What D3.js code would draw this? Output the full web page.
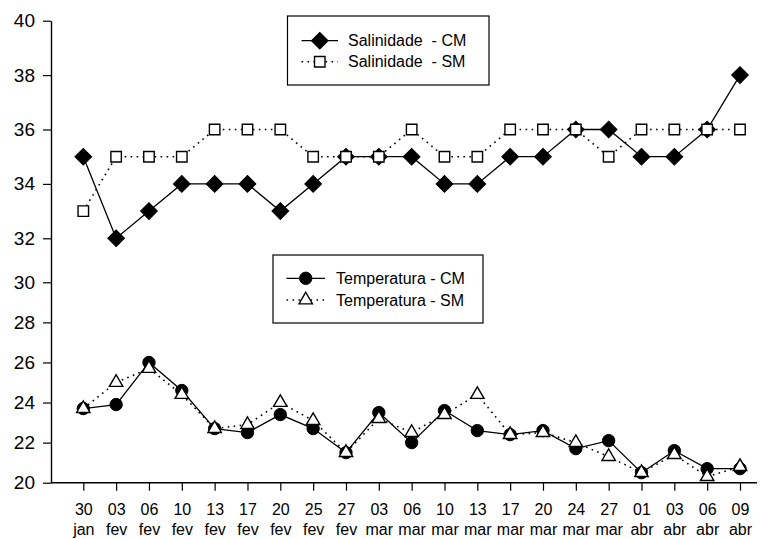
<!DOCTYPE html>
<html>
<head>
<meta charset="utf-8">
<script src="https://cdn.jsdelivr.net/npm/d3@7"></script>
<style>
  body { margin: 0; background: #fff; }
  svg { font-family: Arial, "Liberation Sans", sans-serif; }
</style>
</head>
<body>
<div id="chart"></div>
<script>
const dates = ['30 jan', '03 fev', '06 fev', '10 fev', '13 fev', '17 fev', '20 fev', '25 fev', '27 fev',
  '03 mar', '06 mar', '10 mar', '13 mar', '17 mar', '20 mar', '24 mar', '27 mar',
  '01 abr', '03 abr', '06 abr', '09 abr'];

const salCM = [35, 32, 33, 34, 34, 34, 33, 34, 35, 35, 35, 34, 34, 35, 35, 36, 36, 35, 35, 36, 38];
const salSM = [33, 35, 35, 35, 36, 36, 36, 35, 35, 35, 36, 35, 35, 36, 36, 36, 35, 36, 36, 36, 36];
const tempCM = [23.7, 23.9, 26.0, 24.6, 22.7, 22.5, 23.4, 22.7, 21.5, 23.5, 22.0, 23.6, 22.6, 22.4, 22.6, 21.7, 22.1, 20.5, 21.6, 20.7, 20.7];
const tempSM = [23.7, 25.0, 25.7, 24.4, 22.7, 22.9, 24.0, 23.1, 21.5, 23.2, 22.5, 23.4, 24.4, 22.4, 22.5, 22.0, 21.3, 20.5, 21.4, 20.3, 20.8];

const yTicks = [20, 22, 24, 26, 28, 30, 32, 34, 36, 38, 40];

const width = 760, height = 539;

const svg = d3.select('#chart')
  .append('svg')
  .attr('width', width)
  .attr('height', height);

const x = d3.scalePoint()
  .domain(dates)
  .range([83.3, 740]);

// the original axis is not uniform: wider spacing above 32
const y = d3.scaleLinear()
  .domain([20, 30, 32, 40])
  .range([482.7, 282.3, 238.3, 20.7]);

// y axis
const yAxis = svg.append('g')
  .attr('transform', 'translate(51,0)')
  .call(d3.axisLeft(y).tickValues(yTicks).tickSize(8).tickSizeOuter(0).tickPadding(8));
yAxis.select('.domain').attr('stroke', '#000').attr('stroke-width', 1.4);
yAxis.selectAll('.tick line').attr('stroke', '#000').attr('stroke-width', 1.2);
yAxis.selectAll('.tick text')
  .attr('fill', '#000')
  .style('font-size', '19px')
  .style('font-family', 'Arial, "Liberation Sans", sans-serif');

// x axis
const xAxis = svg.append('g')
  .attr('transform', `translate(0,${y(20)})`)
  .call(d3.axisBottom(x).tickSize(8).tickSizeOuter(0).tickFormat(''));
xAxis.select('.domain').remove();
xAxis.selectAll('.tick line').attr('stroke', '#000').attr('stroke-width', 1.2);
xAxis.append('line')
  .attr('x1', 51).attr('x2', 757)
  .attr('stroke', '#000').attr('stroke-width', 1.4);

const xLabels = xAxis.selectAll('.tick').append('text')
  .attr('fill', '#000')
  .attr('text-anchor', 'middle')
  .style('font-size', '16px')
  .style('font-family', 'Arial, "Liberation Sans", sans-serif');
xLabels.append('tspan').attr('x', 0).attr('y', 32).text(d => d.split(' ')[0]);
xLabels.append('tspan').attr('x', 0).attr('y', 52).text(d => d.split(' ')[1]);

// lines
const line = d3.line()
  .x((d, i) => x(dates[i]))
  .y(d => y(d));

function drawLine(values, dotted) {
  svg.append('path')
    .datum(values)
    .attr('fill', 'none')
    .attr('stroke', '#000')
    .attr('stroke-width', dotted ? 1.6 : 1.3)
    .attr('stroke-dasharray', dotted ? '1.6,4.4' : null)
    .attr('d', line);
}

const symbols = {
  diamond: d3.symbol().type(d3.symbolSquare).size(140),
  square: d3.symbol().type(d3.symbolSquare).size(110),
  circle: d3.symbol().type(d3.symbolCircle).size(120),
  triangle: d3.symbol().type(d3.symbolTriangle).size(78)
};

function marker(g, kind, cx, cy) {
  const p = g.append('path')
    .attr('d', symbols[kind]())
    .attr('stroke', '#000');
  if (kind === 'diamond') {
    p.attr('fill', '#000').attr('transform', `translate(${cx},${cy}) rotate(45)`);
  } else if (kind === 'circle') {
    p.attr('fill', '#000').attr('transform', `translate(${cx},${cy})`);
  } else {
    p.attr('fill', '#fff').attr('stroke-width', 1.4).attr('transform', `translate(${cx},${cy})`);
  }
  return p;
}

function drawMarkers(values, kind) {
  const g = svg.append('g');
  values.forEach((v, i) => marker(g, kind, x(dates[i]), y(v)));
}

drawLine(salCM, false);
drawMarkers(salCM, 'diamond');
drawLine(salSM, true);
drawMarkers(salSM, 'square');

drawLine(tempCM, false);
drawMarkers(tempCM, 'circle');
drawLine(tempSM, true);
drawMarkers(tempSM, 'triangle');

// legends
function legend(box, items) {
  const g = svg.append('g');
  g.append('rect')
    .attr('x', box.x).attr('y', box.y)
    .attr('width', box.w).attr('height', box.h)
    .attr('fill', '#fff')
    .attr('stroke', '#000')
    .attr('stroke-width', 1.2);
  items.forEach(it => {
    g.append('line')
      .attr('x1', box.lx1).attr('x2', box.lx2)
      .attr('y1', it.y).attr('y2', it.y)
      .attr('stroke', '#000')
      .attr('stroke-width', it.dotted ? 1.6 : 1.3)
      .attr('stroke-dasharray', it.dotted ? '1.6,4.4' : null);
    marker(g, it.kind, (box.lx1 + box.lx2) / 2, it.y);
    g.append('text')
      .attr('x', box.tx).attr('y', it.y)
      .attr('dy', '0.35em')
      .attr('fill', '#000')
      .style('font-size', '16px')
      .style('white-space', 'pre')
      .text(it.label);
  });
}

legend({ x: 287.5, y: 16, w: 201.5, h: 69, lx1: 301.5, lx2: 338, tx: 348 }, [
  { y: 40.7, kind: 'diamond', dotted: false, label: 'Salinidade  - CM' },
  { y: 61.7, kind: 'square', dotted: true, label: 'Salinidade  - SM' }
]);

legend({ x: 273, y: 255, w: 210, h: 68, lx1: 286.5, lx2: 325, tx: 336 }, [
  { y: 278.3, kind: 'circle', dotted: false, label: 'Temperatura - CM' },
  { y: 300, kind: 'triangle', dotted: true, label: 'Temperatura - SM' }
]);
</script>
</body>
</html>
